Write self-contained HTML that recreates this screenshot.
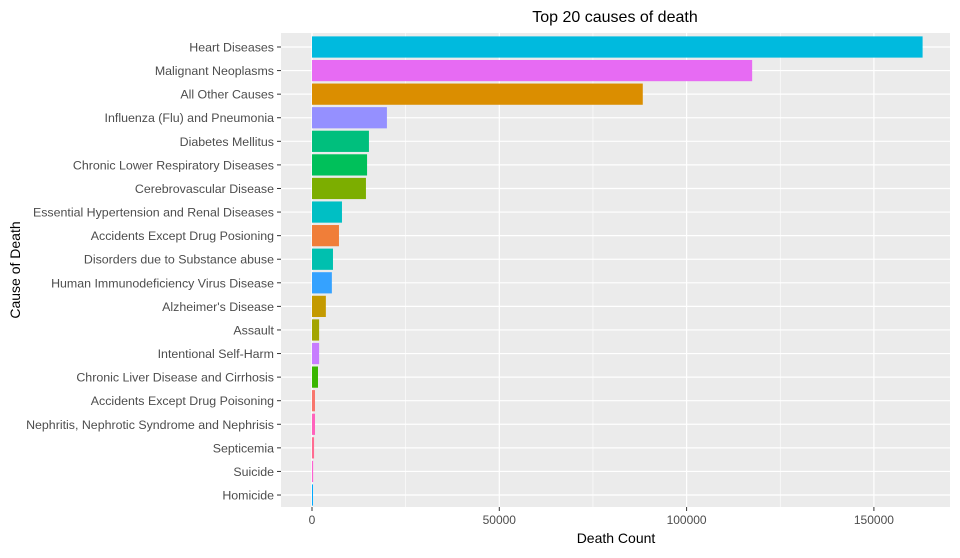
<!DOCTYPE html>
<html><head><meta charset="utf-8"><style>
body{margin:0;background:#fff;font-family:"Liberation Sans",sans-serif}
</style></head><body>
<svg id="c" width="960" height="553" xmlns="http://www.w3.org/2000/svg"></svg>
<script>
const categories=["Heart Diseases","Malignant Neoplasms","All Other Causes","Influenza (Flu) and Pneumonia","Diabetes Mellitus","Chronic Lower Respiratory Diseases","Cerebrovascular Disease","Essential Hypertension and Renal Diseases","Accidents Except Drug Posioning","Disorders due to Substance abuse","Human Immunodeficiency Virus Disease","Alzheimer's Disease","Assault","Intentional Self-Harm","Chronic Liver Disease and Cirrhosis","Accidents Except Drug Poisoning","Nephritis, Nephrotic Syndrome and Nephrisis","Septicemia","Suicide","Homicide"];
const values=[163000,117500,88300,20000,15200,14700,14400,8000,7200,5600,5300,3700,1900,1900,1600,800,800,550,300,120];
const colors=["#00BADE","#E76BF3","#DB8E00","#9590FF","#00BF7D","#00C05A","#7CAE00","#00BFC4","#F07E39","#00C0AF","#35A2FF","#C49A00","#A3A500","#C77CFF","#39B600","#F8766D","#FF62BC","#FF6C91","#FD61D1","#00A9FF"];
const xTicks=[0,50000,100000,150000];
const svg=document.getElementById('c');
const NS="http://www.w3.org/2000/svg";
const L=281,R=950,T=33,B=507;
const x=v=>312+v*(187.3/50000);
const step=23.58;
const y=i=>47+step*i;
function mk(t,a,parent){const e=document.createElementNS(NS,t);for(const k in a)e.setAttribute(k,a[k]);(parent||svg).appendChild(e);return e;}
let p=mk('rect',{x:L,y:T,width:R-L,height:B-T,fill:'#EBEBEB'});


for(let i=0;i<xTicks.length-1;i++){const m=(xTicks[i]+xTicks[i+1])/2;mk('line',{x1:x(m),x2:x(m),y1:T,y2:B,stroke:'#fff','stroke-width':0.6});}
xTicks.forEach(t=>{const g=mk('line',{x1:x(t),x2:x(t),y1:T,y2:B,stroke:'#fff','stroke-width':1.2});


mk('line',{x1:x(t),x2:x(t),y1:B,y2:B+4,stroke:'#333'});
const tl=mk('text',{x:x(t),y:B+17,'text-anchor':'middle','font-size':12,fill:'#4D4D4D'});tl.textContent=t;

});
categories.forEach((c,i)=>{mk('line',{x1:L,x2:R,y1:y(i),y2:y(i),stroke:'#fff','stroke-width':1.2});});
categories.forEach((c,i)=>{
const h=step*0.9;
const b=mk('rect',{x:x(0),y:y(i)-h/2,width:Math.max(1,x(values[i])-x(0)),height:h,fill:colors[i]});


mk('line',{x1:L-4,x2:L,y1:y(i),y2:y(i),stroke:'#333'});
const tl=mk('text',{x:L-7,y:y(i)+4.5,'text-anchor':'end','font-size':12.4,fill:'#4D4D4D'});tl.textContent=c;


});
const ti=mk('text',{x:615,y:22,'text-anchor':'middle','font-size':16,fill:'#000'});ti.textContent='Top 20 causes of death';


const xt=mk('text',{x:616,y:543,'text-anchor':'middle','font-size':14,fill:'#000'});xt.textContent='Death Count';


const yt=mk('text',{x:0,y:0,'text-anchor':'middle','font-size':14,fill:'#000',transform:'translate(20,270) rotate(-90)'});yt.textContent='Cause of Death';


</script>
</body></html>
